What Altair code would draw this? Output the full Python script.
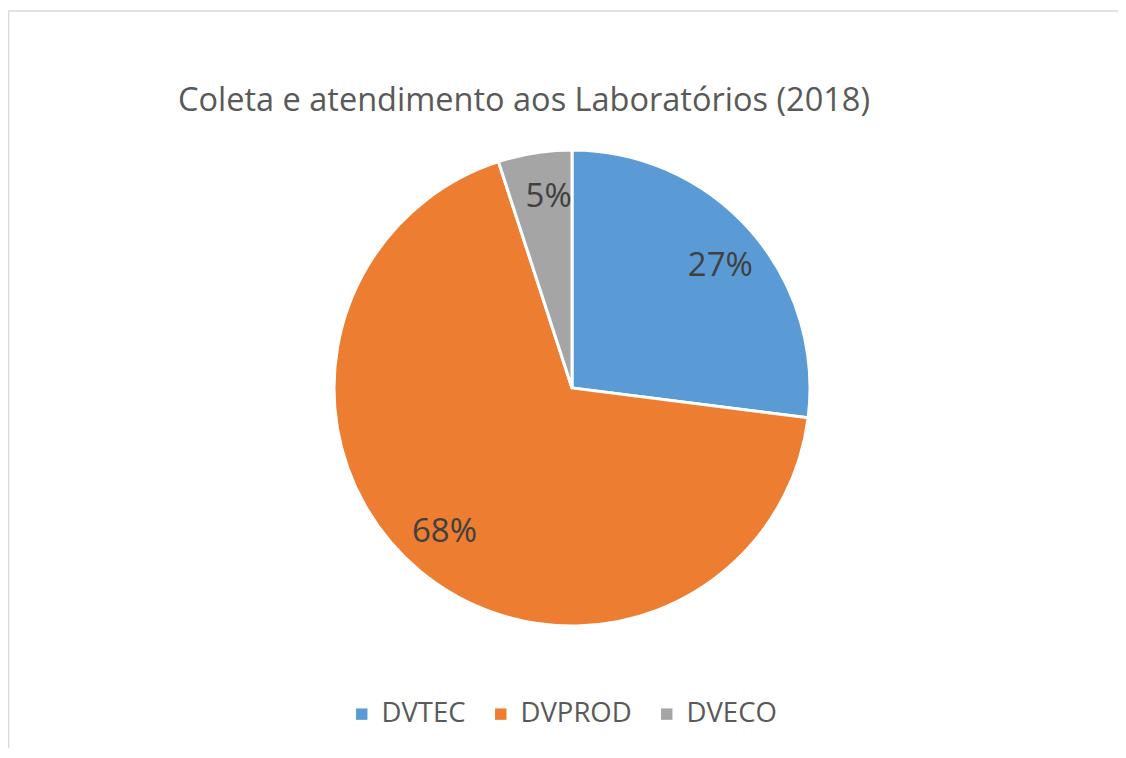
import altair as alt
import pandas as pd
import math

categories = ["DVTEC", "DVPROD", "DVECO"]
values = [27, 68, 5]
labels = ["27%", "68%", "5%"]
colors = ["#5B9BD5", "#ED7D31", "#A5A5A5"]
title_text = "Coleta e atendimento aos Laboratórios (2018)"

df = pd.DataFrame({"cat": categories, "val": values, "label": labels, "order": [0, 1, 2]})

W, H = 1110, 740
CX, CY, R = 564, 380, 238
FONT = "Open Sans"

base = alt.Chart(df).encode(
    order=alt.Order("order:Q"),
    x=alt.value(CX),
    y=alt.value(CY),
)

pie = base.mark_arc(outerRadius=R, stroke="white", strokeWidth=3).encode(
    theta=alt.Theta("val:Q", stack=True),
    color=alt.Color(
        "cat:N",
        scale=alt.Scale(domain=categories, range=colors),
        sort=categories,
        legend=alt.Legend(
            title=None,
            orient="none",
            legendX=340,
            legendY=692,
            direction="horizontal",
            symbolType="square",
            symbolSize=130,
            symbolStrokeWidth=0,
            labelFont=FONT,
            labelFontSize=27.5,
            labelColor="#595959",
            labelOffset=6,
            columnPadding=21,
            symbolOffset=0,
        ),
    )
)

rot = 0.035
text = base.mark_text(radius=192, font=FONT, fontSize=33, color="#404040").encode(
    theta=alt.Theta("val:Q", stack=True, scale=alt.Scale(range=[rot, 2 * math.pi + rot])),
    text="label:N",
)

border = alt.Chart(pd.DataFrame({"a": [0]})).mark_rule(color="#D9D9D9", strokeWidth=1.5).encode(
    x=alt.value(0.5), y=alt.value(3), y2=alt.value(H)
)
border_top = alt.Chart(pd.DataFrame({"a": [0]})).mark_rule(color="#D9D9D9", strokeWidth=1.5).encode(
    x=alt.value(0), x2=alt.value(W + 20), y=alt.value(3)
)

chart = alt.layer(border, border_top, pie, text).properties(
    width=W,
    height=H,
    padding=0,
    autosize=alt.AutoSizeParams(type="none"),
    title=alt.TitleParams(
        title_text,
        font=FONT,
        fontSize=32.5,
        fontWeight="normal",
        color="#595959",
        anchor="middle",
        dx=-39,
        offset=-109,
        orient="top",
    ),
).configure_view(stroke=None).resolve_scale(theta="independent")

chart.save("out.html", embed_options={"renderer": "svg", "actions": False})
